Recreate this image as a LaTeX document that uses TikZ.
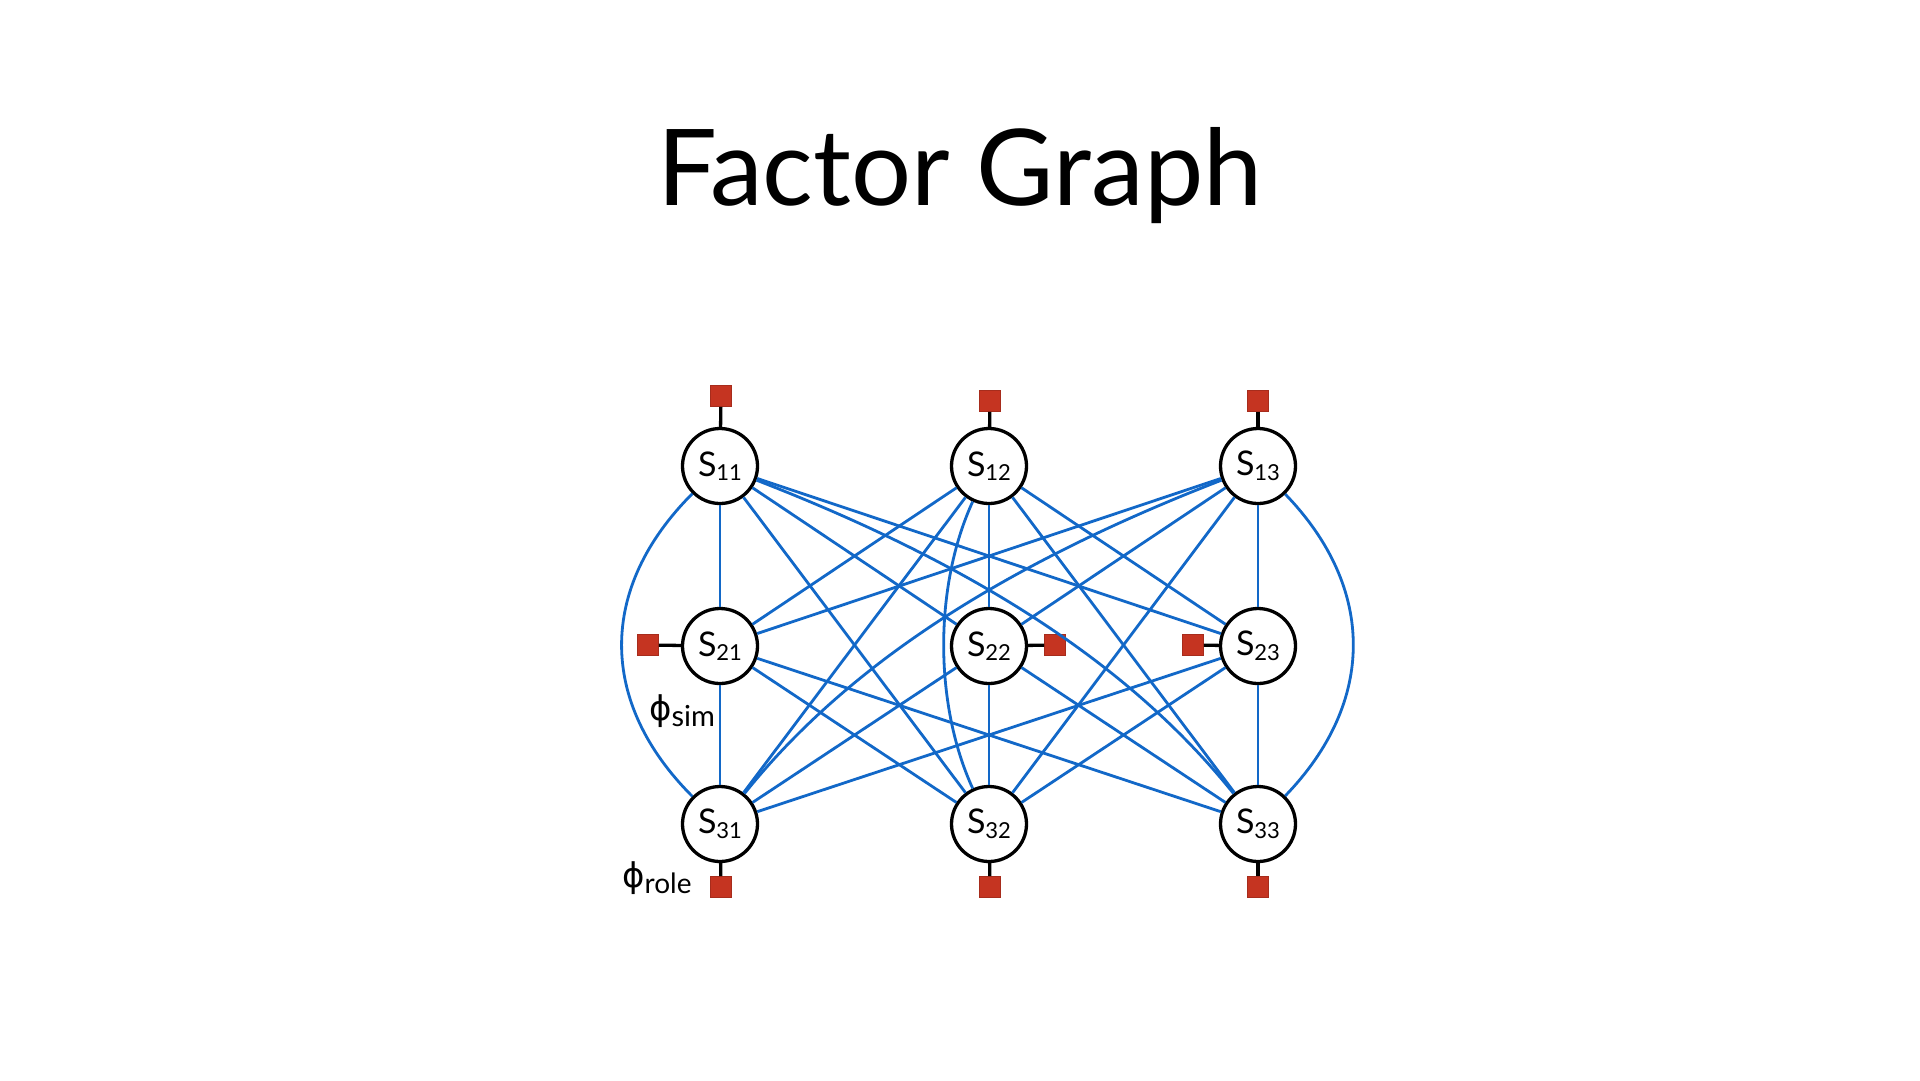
\documentclass[tikz,border=0pt]{standalone}
\usepackage{fontspec}
\setmainfont{Lato}
\newfontfamily\phifont{DejaVu Sans}
\definecolor{edgeblue}{RGB}{18,104,200}
\definecolor{factorred}{RGB}{197,52,33}
% variable label: S with a lowered index
\newcommand\sv[1]{S\raisebox{-4.5pt}{\fontsize{22}{22}\selectfont #1}}
\begin{document}
\begin{tikzpicture}[x=1pt,y=-1pt,
  var/.style={circle,draw=black,line width=3.3pt,fill=white,minimum size=75pt,
    inner sep=0pt,font=\fontsize{34}{34}\selectfont},
  factor/.style={rectangle,fill=factorred,draw=factorred!85!black,line width=0.6pt,
    minimum size=21pt,inner sep=0pt},
  link/.style={draw=edgeblue,line width=2.8pt},
  stem/.style={draw=black,line width=3.3pt}]

\useasboundingbox[fill=white] (0,0) rectangle (1920,1080);

% title
\node[anchor=base,inner sep=0pt] (title) at (960,205)
  {\fontsize{106}{106}\selectfont Factor Graph};

% variable nodes
\node[var] (s11) at (720,466) {\sv{11}};
\node[var] (s12) at (989,466) {\sv{12}};
\node[var] (s13) at (1258,466) {\sv{13}};
\node[var] (s21) at (720,646) {\sv{21}};
\node[var] (s22) at (989,646) {\sv{22}};
\node[var] (s23) at (1258,646) {\sv{23}};
\node[var] (s31) at (720,824) {\sv{31}};
\node[var] (s32) at (989,824) {\sv{32}};
\node[var] (s33) at (1258,824) {\sv{33}};

% unary factors
\node[factor] (f11) at (721,396) {};
\node[factor] (f12) at (990,401) {};
\node[factor] (f13) at (1258,401) {};
\node[factor] (f21) at (648,645) {};
\node[factor] (f22) at (1055,645) {};
\node[factor] (f23) at (1193,645) {};
\node[factor] (f31) at (721,887) {};
\node[factor] (f32) at (990,887) {};
\node[factor] (f33) at (1258,887) {};

\foreach \v in {11,12,13,21,22,23,31,32,33}
  \draw[stem] (f\v) -- (s\v);

% pairwise factors between rows 1 and 2, and rows 2 and 3
\foreach \a in {1,2,3}
  \foreach \b in {1,2,3} {
    \draw[link] (s1\a) -- (s2\b);
    \draw[link] (s2\a) -- (s3\b);
  }

% pairwise factors between rows 1 and 3
\draw[link] (s11) -- (s32);
\draw[link] (s12) -- (s31);
\draw[link] (s12) -- (s33);
\draw[link] (s13) -- (s32);
\draw[link] (s11) .. controls (970,563) and (1128,662) .. (s33);
\draw[link] (s13) .. controls (1008,563) and (850,662) .. (s31);
\draw[link] (s11) .. controls (598,588) and (598,702) .. (s31);
\draw[link] (s12) .. controls (934,586) and (934,704) .. (s32);
\draw[link] (s13) .. controls (1376,588) and (1376,702) .. (s33);

% factor labels
\node[anchor=base west,inner sep=0pt] (phisim) at (649,720)
  {{\phifont\fontsize{34}{34}\selectfont ϕ}\raisebox{-6pt}{\fontsize{29}{29}\selectfont sim}};
\node[anchor=base west,inner sep=0pt] (phirole) at (622,887)
  {{\phifont\fontsize{34}{34}\selectfont ϕ}\raisebox{-6pt}{\fontsize{28}{28}\selectfont role}};
\end{tikzpicture}
\end{document}
